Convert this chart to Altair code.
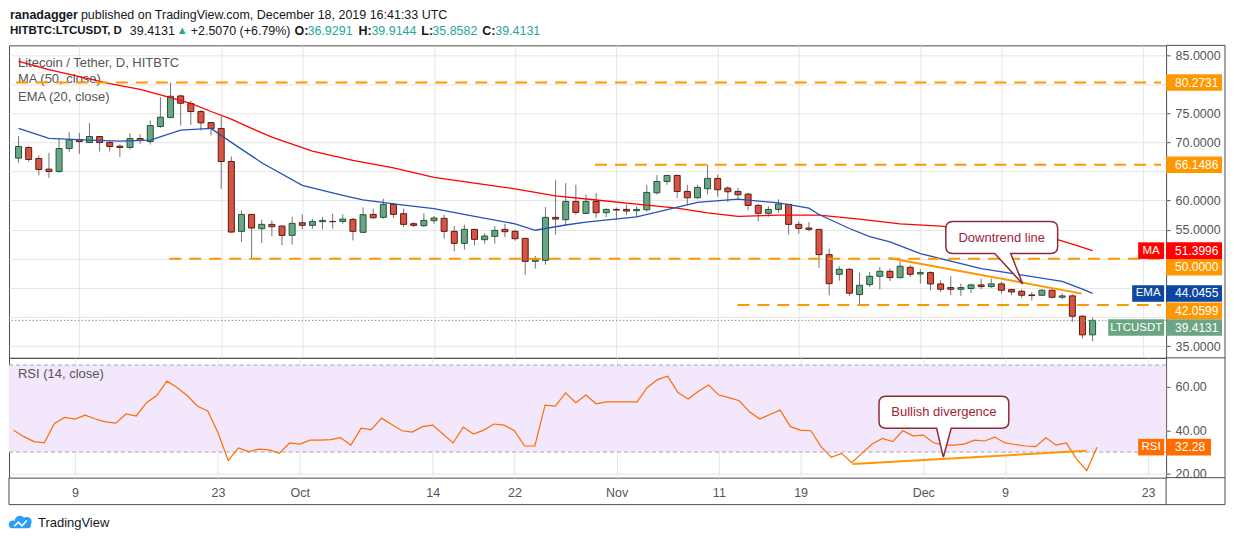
import altair as alt
import pandas as pd

# LTC/USDT daily candles, 3 Sep - 18 Dec 2019 (HitBTC)
days = pd.date_range("2019-09-03", "2019-12-18", freq="D").strftime("%Y-%m-%d").tolist()

opens = [67.29, 69.12, 67.23, 65.40, 65.00, 68.94, 70.49, 69.97, 71.00, 69.97,
         69.34, 69.12, 70.66, 70.14, 72.72, 74.26, 77.98, 76.66, 75.29, 73.40,
         72.37, 66.71, 54.71, 57.62, 55.16, 55.91, 55.62, 54.02, 56.19, 55.74,
         56.37, 56.42, 56.42, 56.77, 54.54, 57.62, 57.11, 59.34, 57.74, 56.02,
         55.68, 56.54, 56.94, 54.71, 52.65, 55.05, 53.28, 53.85, 55.05, 54.71,
         53.51, 49.56, 49.73, 57.11, 56.71, 59.85, 57.80, 59.85, 57.91, 58.48,
         58.48, 58.25, 58.42, 61.34, 63.28, 64.31, 61.57, 60.48, 62.03, 63.80,
         62.14, 61.57, 61.11, 59.17, 57.80, 58.48, 59.34, 55.91, 55.28, 55.05,
         50.71, 47.33, 48.19, 43.85, 45.56, 46.99, 47.85, 46.76, 48.53, 47.39,
         47.62, 45.68, 45.05, 44.76, 44.88, 45.51, 45.22, 45.68, 44.70, 44.42,
         43.79, 43.73, 44.59, 43.39, 43.62, 40.13, 36.9291]
highs = [71.06, 69.34, 67.74, 68.20, 70.72, 71.74, 71.63, 73.29, 71.12, 70.26,
         69.63, 71.57, 71.40, 73.75, 77.75, 80.27, 78.20, 77.18, 75.57, 73.46,
         74.43, 67.57, 58.31, 57.62, 56.71, 56.59, 55.74, 57.22, 57.62, 56.88,
         57.17, 57.74, 57.62, 57.00, 58.82, 58.59, 60.31, 59.62, 58.60, 56.31,
         57.85, 57.34, 57.57, 55.62, 55.85, 55.05, 54.42, 55.62, 56.02, 54.99,
         53.51, 50.48, 58.88, 63.51, 63.00, 62.71, 61.00, 61.28, 58.65, 58.82,
         59.28, 59.00, 62.71, 64.37, 64.43, 64.48, 62.71, 62.71, 66.15, 64.48,
         62.48, 62.14, 61.34, 59.45, 59.05, 60.20, 59.45, 56.42, 56.31, 55.05,
         51.74, 48.71, 48.42, 47.62, 47.73, 48.59, 48.31, 49.56, 48.88, 48.19,
         47.85, 46.31, 47.05, 45.73, 45.73, 46.59, 46.59, 46.02, 44.88, 44.76,
         44.30, 44.76, 44.76, 44.02, 43.90, 40.30, 39.9144]
lows = [66.48, 66.71, 64.31, 63.91, 64.77, 68.31, 68.03, 69.97, 68.43, 68.43,
        67.51, 68.77, 69.69, 69.63, 72.49, 74.26, 72.89, 73.00, 72.03, 71.17,
        62.03, 54.48, 52.88, 50.02, 52.71, 53.85, 52.31, 52.42, 55.05, 55.16,
        55.05, 55.16, 56.02, 53.16, 54.42, 56.88, 56.88, 57.05, 55.45, 55.45,
        55.45, 56.02, 53.45, 51.28, 51.56, 52.31, 52.59, 52.59, 53.74, 53.11,
        47.28, 48.31, 48.99, 54.14, 55.74, 57.57, 57.68, 57.00, 57.17, 56.77,
        57.57, 57.17, 58.14, 61.00, 62.71, 60.43, 59.17, 60.31, 61.05, 60.65,
        59.74, 60.20, 58.31, 56.42, 57.22, 57.91, 54.14, 54.31, 54.71, 48.42,
        43.73, 46.25, 43.62, 42.06, 45.16, 44.76, 46.19, 46.59, 46.88, 45.73,
        44.59, 44.30, 43.73, 43.62, 44.13, 44.76, 44.99, 44.02, 43.73, 43.28,
        42.82, 43.62, 43.16, 43.05, 39.16, 36.30, 35.8582]
closes = [69.29, 67.06, 65.34, 65.00, 68.94, 70.43, 70.14, 71.00, 69.97, 69.29,
          69.12, 70.66, 70.32, 72.89, 74.32, 77.92, 76.72, 75.29, 73.35, 72.37,
          66.71, 54.59, 57.62, 55.28, 55.91, 55.51, 54.02, 56.08, 55.74, 56.42,
          56.59, 56.37, 56.82, 54.71, 57.57, 57.05, 59.34, 57.62, 55.91, 55.74,
          56.60, 57.00, 54.71, 52.65, 55.05, 53.34, 53.91, 54.88, 54.65, 53.45,
          49.56, 49.85, 57.11, 56.82, 59.85, 57.97, 59.85, 57.91, 58.48, 58.37,
          58.20, 58.48, 61.40, 63.28, 64.31, 61.57, 60.48, 62.26, 63.80, 61.85,
          61.51, 61.00, 59.17, 57.80, 58.48, 59.40, 55.91, 55.22, 55.05, 50.71,
          45.73, 48.19, 44.08, 45.45, 46.99, 47.85, 46.76, 48.71, 47.33, 47.62,
          45.68, 44.76, 44.76, 45.05, 45.51, 45.22, 45.68, 44.59, 44.30, 43.73,
          43.68, 44.59, 43.39, 43.62, 40.13, 36.93, 39.4131]

# RSI(14), one value per candle
rsi = [40.0, 37.1, 34.8, 34.3, 43.2, 45.9, 45.2, 47.0, 45.2, 43.9,
       43.3, 47.5, 46.6, 52.7, 56.0, 62.6, 59.7, 55.9, 51.1, 48.9,
       38.9, 26.1, 31.9, 30.2, 31.4, 31.0, 29.4, 34.2, 33.7, 35.5,
       35.5, 35.7, 36.6, 33.2, 41.0, 40.3, 45.6, 42.7, 39.8, 39.2,
       41.7, 42.4, 38.3, 34.2, 41.5, 38.3, 40.1, 42.9, 42.4, 39.8,
       32.8, 32.8, 51.6, 51.1, 57.2, 52.7, 56.2, 52.2, 53.1, 53.1,
       53.1, 53.1, 59.7, 63.3, 64.9, 57.4, 54.4, 58.0, 60.8, 56.2,
       55.0, 53.6, 48.5, 45.2, 47.3, 49.3, 41.7, 40.1, 39.8, 32.5,
       27.6, 29.4, 25.1, 29.4, 33.7, 36.3, 34.8, 39.8, 37.5, 37.8,
       34.3, 33.2, 33.2, 33.7, 35.5, 35.1, 36.9, 34.2, 33.5, 32.8,
       32.5, 36.6, 33.2, 34.2, 26.8, 21.5, 32.28]

# MA(50) and EMA(20), read at sampled days
ma_dates = ["2019-09-03", "2019-09-06", "2019-09-09", "2019-09-12", "2019-09-15",
            "2019-09-18", "2019-09-20", "2019-09-22", "2019-09-24", "2019-09-26",
            "2019-09-28", "2019-10-02", "2019-10-06", "2019-10-10", "2019-10-14",
            "2019-10-18", "2019-10-22", "2019-10-26", "2019-10-30", "2019-11-03",
            "2019-11-07", "2019-11-10", "2019-11-13", "2019-11-17", "2019-11-21",
            "2019-11-25", "2019-11-29", "2019-12-03", "2019-12-07", "2019-12-11",
            "2019-12-14", "2019-12-16", "2019-12-18"]
ma_vals = [83.9, 82.5, 81.3, 80.1, 79.1, 77.7, 76.7, 75.3, 74.0, 72.4,
           70.9, 68.5, 66.9, 65.6, 64.0, 63.0, 62.0, 60.8, 60.1, 59.4,
           58.7, 57.9, 57.3, 57.5, 57.5, 56.8, 56.0, 55.6, 54.9, 54.2,
           53.6, 52.5, 51.3996]
ema_dates = ["2019-09-03", "2019-09-06", "2019-09-10", "2019-09-13", "2019-09-16",
             "2019-09-19", "2019-09-22", "2019-09-24", "2019-09-27", "2019-10-01",
             "2019-10-05", "2019-10-07", "2019-10-11", "2019-10-14", "2019-10-18",
             "2019-10-22", "2019-10-24", "2019-10-27", "2019-10-29", "2019-11-03",
             "2019-11-05", "2019-11-09", "2019-11-13", "2019-11-17", "2019-11-20",
             "2019-11-21", "2019-11-24", "2019-11-26", "2019-11-28", "2019-12-01",
             "2019-12-07", "2019-12-10", "2019-12-15", "2019-12-17", "2019-12-18"]
ema_vals = [72.4, 70.7, 70.4, 70.2, 70.4, 72.1, 72.4, 70.0, 66.5, 62.6,
            60.9, 60.1, 59.2, 58.6, 57.3, 56.0, 54.9, 55.8, 56.3, 57.2,
            58.0, 59.7, 60.25, 59.6, 58.7, 57.6, 55.2, 53.8, 52.9, 50.9,
            48.3, 47.5, 46.1, 44.8, 44.0455]

# horizontal levels drawn by the author (value, first day)
level_vals = [80.2731, 66.1486, 50.0, 42.0599]
level_starts = ["2019-09-02T18:00:00Z", "2019-10-29T21:20:00Z",
                "2019-09-17T21:20:00Z", "2019-11-12T22:50:00Z"]

trend_dates = ["2019-11-27T21:36:00Z", "2019-12-16T22:30:00Z"]
trend_vals = [50.14, 44.01]
div_dates = ["2019-11-24T02:00:00Z", "2019-12-16T23:00:00Z"]
div_vals = [24.5, 30.6]

date_ticks = ["2019-09-09", "2019-09-23", "2019-10-01", "2019-10-14", "2019-10-22",
              "2019-11-01", "2019-11-11", "2019-11-19", "2019-12-01", "2019-12-09",
              "2019-12-23"]
price_ticks = [35, 40, 45, 50, 55, 60, 65, 70, 75, 80, 85]
price_hidden = [40, 45, 50, 65, 80]   # tick labels covered by the price tags
rsi_ticks = [20, 40, 60]

assert len(days) == len(opens) == len(highs) == len(lows) == len(closes) == len(rsi)

# ---- look ----
FONT = "Liberation Sans"
TXT, GREY, TEAL = "#131722", "#555555", "#26A69A"
ORANGE, GRID, FRAME = "#FF9800", "#E6E6E6", "#4D4D4D"
UP, DOWN, UP_B, DOWN_B, WICK = "#6BA583", "#D75442", "#225437", "#5B1A13", "#737375"
BUB_LINE, BUB_TXT = "#8E2B3A", "#A0223A"

W, H_MAIN, H_RSI = 1159, 313, 120
FR = 1218  # outer right border of the price-scale column


def ms(s):
    return int(pd.Timestamp(s).value // 10**6)


X_START, X_END = "2019-09-02T13:12:00Z", "2019-12-24T18:14:00Z"
x_scale = alt.Scale(type="utc", domain=[ms(X_START), ms(X_END)])
price_scale = alt.Scale(domain=[32.976, 86.664], nice=False, zero=False)
rsi_scale = alt.Scale(domain=[18.26, 73.30], nice=False, zero=False)
tick_ms = [ms(d) for d in date_ticks]

x_axis_main = alt.Axis(values=tick_ms, grid=True, gridColor=GRID, labels=False,
                       ticks=False, domain=False, title=None)
x_axis_rsi = alt.Axis(values=tick_ms, grid=True, gridColor=GRID, ticks=False, tickSize=0,
                      domain=False, title=None, labelPadding=9, labelColor=GREY,
                      labelFontSize=12.5, labelFont=FONT, labelFlush=False,
                      labelOverlap=False,
                      labelExpr="utcdate(datum.value) == 1 ? utcFormat(datum.value, '%b')"
                                " : utcFormat(datum.value, '%-d')")
y_axis_main = alt.Axis(orient="right", values=price_ticks, format=".4f", grid=True,
                       gridColor=GRID, tickSize=4, tickColor=GREY, labelColor=GREY,
                       labelFontSize=12.5, labelFont=FONT, labelPadding=5, domain=False,
                       title=None, labelFlush=False, labelOverlap=False,
                       labelExpr=f"indexof({price_hidden}, datum.value) >= 0 ? '' : datum.label")
y_axis_rsi = alt.Axis(orient="right", values=rsi_ticks, format=".2f", grid=True,
                      gridColor=GRID, tickSize=4, tickColor=GREY, labelColor=GREY,
                      labelFontSize=12.5, labelFont=FONT, labelPadding=5, domain=False,
                      title=None, labelFlush=False, labelOverlap=False)


def xm(field):
    return alt.X(field, type="temporal", scale=x_scale, axis=x_axis_main, title=None)


def xr(field):
    return alt.X(field, type="temporal", scale=x_scale, axis=x_axis_rsi, title=None)


def yp(field):
    return alt.Y(field, type="quantitative", scale=price_scale, axis=y_axis_main, title=None)


def yr(field):
    return alt.Y(field, type="quantitative", scale=rsi_scale, axis=y_axis_rsi, title=None)


one = pd.DataFrame({"k": [0]})


def text_at(txt, x, y, size=13, color=TXT, weight="normal", align="left"):
    return alt.Chart(one).mark_text(
        text=txt, align=align, baseline="middle", fontSize=size, color=color,
        fontWeight=weight, font=FONT
    ).encode(x=alt.value(x), y=alt.value(y))


def rule_px(x, x2, y, y2, color=FRAME):
    return alt.Chart(one).mark_rule(color=color, strokeWidth=1).encode(
        x=alt.value(x), x2=alt.value(x2), y=alt.value(y), y2=alt.value(y2))


def bubble_path(hw, hh, t0, t1, tip, r, s):
    """Rounded callout box with a tail, in symbol units (pixels / s)."""
    tx, ty = tip
    parts = [("M", -hw + r, -hh), ("L", hw - r, -hh), ("Q", hw, -hh, hw, -hh + r),
             ("L", hw, hh - r), ("Q", hw, hh, hw - r, hh), ("L", t1, hh), ("L", tx, ty),
             ("L", t0, hh), ("L", -hw + r, hh), ("Q", -hw, hh, -hw, hh - r),
             ("L", -hw, -hh + r), ("Q", -hw, -hh, -hw + r, -hh)]
    return " ".join(c + " " + " ".join(f"{v / s:.4f}" for v in vals)
                    for c, *vals in parts) + " Z"


def callout(df, xenc, yenc, label, path, s):
    shape = alt.Chart(df).mark_point(
        shape=path, size=(2 * s) ** 2, filled=True, fill="white", stroke=BUB_LINE,
        strokeWidth=1.5, opacity=1
    ).encode(x=xenc("t"), y=yenc("v"))
    txt = alt.Chart(df).mark_text(
        text=label, fontSize=13, color=BUB_TXT, font=FONT, align="center", baseline="middle"
    ).encode(x=xenc("t"), y=yenc("v"))
    return [shape, txt]


def tag(value, yenc, color, nudge=0, name=None, name_w=26, val_w=56, fmt=".4f"):
    d = pd.DataFrame({"v": [value]})
    out = [
        alt.Chart(d).mark_rect(color=color, yOffset=nudge - 8.3, y2Offset=nudge + 8.3)
        .encode(x=alt.value(W), x2=alt.value(W + val_w), y=yenc("v"), y2=alt.Y2("v")),
        alt.Chart(d).mark_text(text=f"{value:{fmt}}", color="white", fontSize=12,
                               font=FONT, align="left", baseline="middle", dy=nudge)
        .encode(x=alt.value(W + 9), y=yenc("v")),
    ]
    if name:
        out += [
            alt.Chart(d).mark_rect(color=color, yOffset=nudge - 8.3, y2Offset=nudge + 8.3)
            .encode(x=alt.value(W - 2 - name_w), x2=alt.value(W - 2), y=yenc("v"),
                    y2=alt.Y2("v")),
            alt.Chart(d).mark_text(text=name, color="white", fontSize=11.5, font=FONT,
                                   align="center", baseline="middle", dy=nudge)
            .encode(x=alt.value(W - 2 - name_w / 2), y=yenc("v")),
        ]
    return out


# ---- frames ----
candles = pd.DataFrame({"date": days, "open": opens, "high": highs,
                        "low": lows, "close": closes})
candles["dir"] = ["up" if c >= o else "down" for o, c in zip(opens, closes)]
ma_df = pd.DataFrame({"date": ma_dates, "v": ma_vals})
ema_df = pd.DataFrame({"date": ema_dates, "v": ema_vals})
levels_df = pd.DataFrame({"start": level_starts, "end": [X_END] * len(level_vals),
                          "v": level_vals})
trend_df = pd.DataFrame({"date": trend_dates, "v": trend_vals})
last_df = pd.DataFrame({"v": [closes[-1]]})
rsi_df = pd.DataFrame({"date": days, "v": rsi})
div_df = pd.DataFrame({"date": div_dates, "v": div_vals})

# ---- price pane ----
wicks = alt.Chart(candles).mark_rule(color=WICK, strokeWidth=1).encode(
    x=xm("date"), y=yp("low"), y2=alt.Y2("high"))
bodies = alt.Chart(candles).mark_bar(size=6, strokeWidth=1).encode(
    x=xm("date"), y=yp("open"), y2=alt.Y2("close"),
    fill=alt.Fill("dir:N", scale=alt.Scale(domain=["up", "down"], range=[UP, DOWN]),
                  legend=None),
    stroke=alt.Stroke("dir:N", scale=alt.Scale(domain=["up", "down"], range=[UP_B, DOWN_B]),
                      legend=None))
ma_line = alt.Chart(ma_df).mark_line(color="#FF0000", strokeWidth=1.3).encode(
    x=xm("date"), y=yp("v"))
ema_line = alt.Chart(ema_df).mark_line(color="#2452B8", strokeWidth=1.3).encode(
    x=xm("date"), y=yp("v"))
last_line = alt.Chart(last_df).mark_rule(color=UP, strokeDash=[1.5, 2], strokeWidth=1).encode(
    y=yp("v"))
level_lines = alt.Chart(levels_df).mark_rule(
    color=ORANGE, strokeWidth=2, strokeDash=[12, 8]
).encode(x=xm("start"), x2=alt.X2("end"), y=yp("v"))
trend_line = alt.Chart(trend_df).mark_line(color=ORANGE, strokeWidth=2).encode(
    x=xm("date"), y=yp("v"))

down_bubble = pd.DataFrame({"t": ["2019-12-09T00:45:00Z"], "v": [53.65]})
down_path = bubble_path(56, 16, -7, 9, (21, 46.5), 7, 60)

main_layers = [
    text_at("Litecoin / Tether, D, HITBTC", 9, 17.5, color=GREY),
    text_at("MA (50, close)", 9, 34, color=GREY),
    text_at("EMA (20, close)", 9, 51.5, color=GREY),
    wicks, bodies, ma_line, ema_line, last_line, level_lines, trend_line,
    *callout(down_bubble, xm, yp, "Downtrend line", down_path, 60),
]
for v, c, n, name, nw in [(level_vals[0], ORANGE, 0, None, 0),
                          (level_vals[1], ORANGE, 0, None, 0),
                          (ma_vals[-1], "#FF0000", 0, "MA", 26),
                          (level_vals[2], ORANGE, 8.5, None, 0),
                          (ema_vals[-1], "#0D47A1", 0, "EMA", 32),
                          (level_vals[3], ORANGE, 5.7, None, 0),
                          (closes[-1], UP, 7.2, "LTCUSDT", 56)]:
    main_layers += tag(v, yp, c, nudge=n, name=name, name_w=nw)

main_layers += [rule_px(W, FR, 0, 0), rule_px(FR, FR, 0, H_MAIN),
                rule_px(W, FR, H_MAIN, H_MAIN)]

# header above the frame
hy1, hy2, hs = -30, -14.5, 12.5
main_layers += [
    text_at("ranadagger", 1, hy1, size=hs, weight="bold"),
    text_at("published on TradingView.com, December 18, 2019 16:41:33 UTC", 72, hy1, size=hs),
    text_at("HITBTC:LTCUSDT, D", 1, hy2, size=11.5, weight="bold"),
    text_at(f"{closes[-1]:.4f}", 121, hy2, size=hs),
    text_at("\u25B2", 168, hy2, color=TEAL, size=11),
    text_at("+2.5070 (+6.79%)", 182, hy2, size=hs),
    text_at("O:", 286, hy2, size=hs, weight="bold"),
    text_at(f"{opens[-1]:.4f}", 299, hy2, size=hs, color=TEAL),
    text_at("H:", 350, hy2, size=hs, weight="bold"),
    text_at(f"{highs[-1]:.4f}", 363, hy2, size=hs, color=TEAL),
    text_at("L:", 413, hy2, size=hs, weight="bold"),
    text_at(f"{lows[-1]:.4f}", 424, hy2, size=hs, color=TEAL),
    text_at("C:", 474, hy2, size=hs, weight="bold"),
    text_at(f"{closes[-1]:.4f}", 487, hy2, size=hs, color=TEAL),
]

main = alt.layer(*main_layers).properties(width=W, height=H_MAIN)

# ---- RSI pane ----
band = alt.Chart(pd.DataFrame({"lo": [30], "hi": [70]})).mark_rect(color="#F3E7FB").encode(
    x=alt.value(0), x2=alt.value(W), y=yr("lo"), y2=alt.Y2("hi"))
band_lines = alt.Chart(pd.DataFrame({"v": [30, 70]})).mark_rule(
    color="#A8A2AD", strokeDash=[4, 3], strokeWidth=1).encode(y=yr("v"))
rsi_line = alt.Chart(rsi_df).mark_line(color="#FF6D00", strokeWidth=1.2).encode(
    x=xr("date"), y=yr("v"))
div_line = alt.Chart(div_df).mark_line(color=ORANGE, strokeWidth=2).encode(
    x=xr("date"), y=yr("v"))

bull_bubble = pd.DataFrame({"t": ["2019-12-03T00:30:00Z"], "v": [48.3]})
bull_path = bubble_path(65, 16, -7.3, 7.3, (-0.6, 45), 7, 70)

cloud = ("M -0.95 0.55 A 0.38 0.38 0 0 1 -0.6 -0.15 A 0.5 0.5 0 0 1 0.3 -0.45 "
         "A 0.45 0.45 0 0 1 0.95 0.15 A 0.35 0.35 0 0 1 0.75 0.55 Z")
zigzag = "M -0.65 0.35 L -0.25 -0.05 L 0.1 0.3 L 0.55 -0.2"

rsi_layers = [
    band, band_lines,
    text_at("RSI (14, close)", 9, 16, color=GREY),
    rsi_line, div_line,
    *callout(bull_bubble, xr, yr, "Bullish divergence", bull_path, 70),
    *tag(rsi[-1], yr, "#FF6D00", name="RSI", name_w=26, val_w=45, fmt=".2f"),
    rule_px(FR, FR, 0, H_RSI + 27), rule_px(W, FR, H_RSI, H_RSI),
    rule_px(W, W, H_RSI, H_RSI + 27), rule_px(0, 0, H_RSI, H_RSI + 27),
    rule_px(0, FR, H_RSI + 27, H_RSI + 27),
    alt.Chart(one).mark_point(shape=cloud, size=441, filled=True, fill="#2A9DF4",
                              opacity=1, strokeWidth=0)
    .encode(x=alt.value(12), y=alt.value(165)),
    alt.Chart(one).mark_point(shape=zigzag, size=441, filled=False, stroke="white",
                              strokeWidth=1.6, opacity=1)
    .encode(x=alt.value(12), y=alt.value(165)),
    text_at("TradingView", 29, 165, size=13),
]

rsi_chart = alt.layer(*rsi_layers).properties(width=W, height=H_RSI)

chart = (
    alt.vconcat(main, rsi_chart, spacing=0, bounds="flush")
    .properties(padding=0)
    .configure_view(stroke=FRAME, strokeWidth=1)
    .configure_text(font=FONT)
)

chart.save("out.html", embed_options={"renderer": "svg", "actions": False})
